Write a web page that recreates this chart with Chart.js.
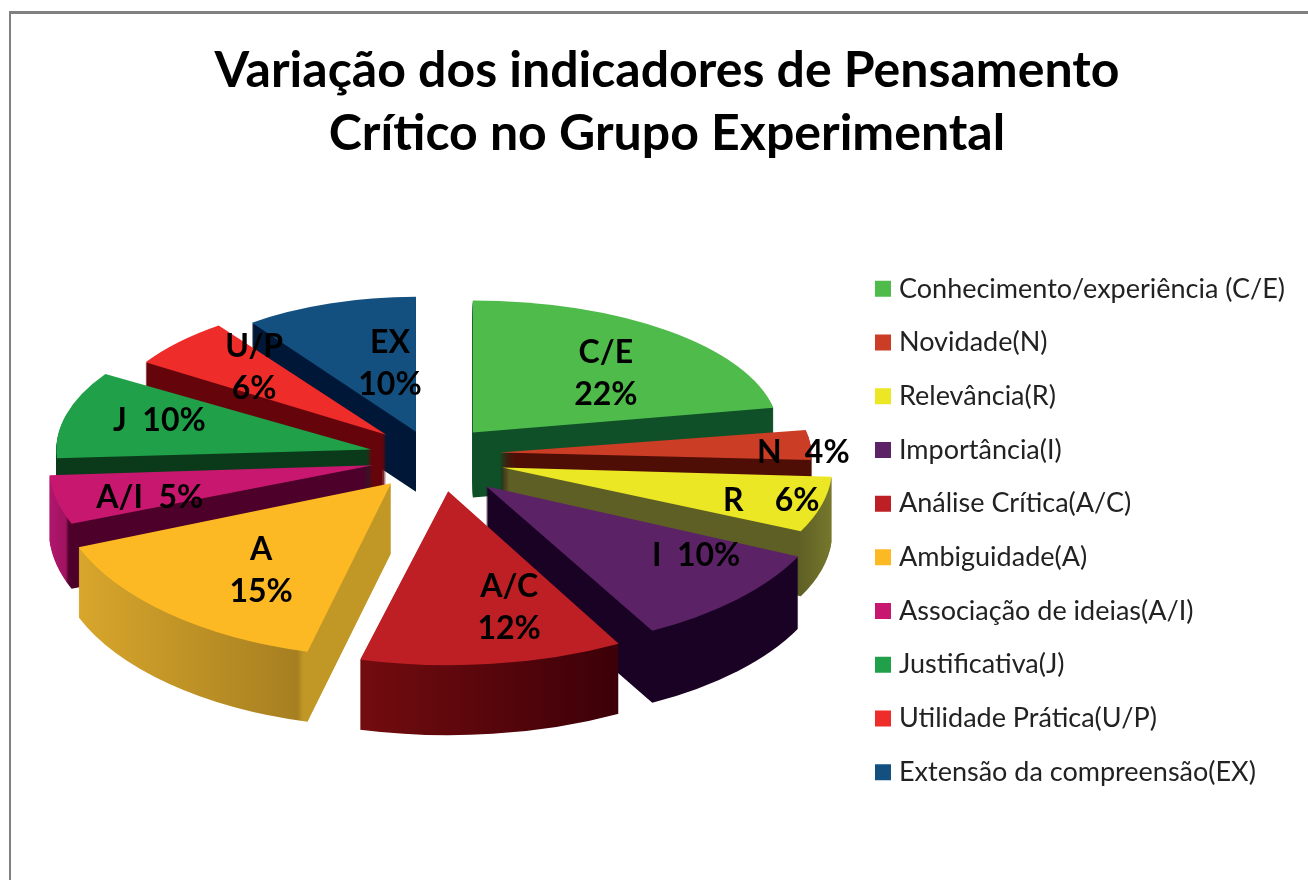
<!DOCTYPE html>
<html>
<head>
<meta charset="utf-8">
<title>Pensamento Crítico</title>
<script src="https://cdn.jsdelivr.net/npm/chart.js@4"></script>
<style>
    html, body { margin: 0; background: #fff; overflow: hidden; }
    #frame { position: absolute; left: 9px; top: 11px; width: 1310px; height: 880px; border-left: 2px solid #808080; border-top: 3px solid #808080; overflow: hidden; }
</style>
</head>
<body>
<div id="frame"><canvas id="grafica" width="1310" height="1008"></canvas></div>
<script>
const categorias = ["Conhecimento/experiência (C/E)", "Novidade(N)", "Relevância(R)", "Importância(I)", "Análise Crítica(A/C)", "Ambiguidade(A)", "Associação de ideias(A/I)", "Justificativa(J)", "Utilidade Prática(U/P)", "Extensão da compreensão(EX)"];
const valores = [22, 4, 6, 10, 12, 15, 5, 10, 6, 10];
const rotulos = [["C/E", "22%"], ["N   4%"], ["R    6%"], ["I  10%"], ["A/C", "12%"], ["A", "15%"], ["A/I  5%"], ["J  10%"], ["U/P", "6%"], ["EX", "10%"]];
const cores = ["#4fbb4b", "#cb3d25", "#ebe724", "#5b2366", "#bd1f24", "#fdb924", "#c8176f", "#20a049", "#ee2d2b", "#14507f"];
// paredes do efeito 3D: [posicao, cor] dentro da fatia
const paredes = [
    [[0, "#0f5028"], [1, "#0f5028"]],
    [[0, "#4e0d05"], [1, "#4e0d05"]],
    [[0, "#5e5f25"], [0.9, "#5e5f25"], [1, "#77782c"]],
    [[0, "#1a0225"], [1, "#1a0225"]],
    [[0, "#730c0f"], [1, "#3c0008"]],
    [[0, "#d8a62c"], [0.7, "#a67f20"], [0.72, "#c19826"], [1, "#c19826"]],
    [[0, "#b0166f"], [0.05, "#a0135f"], [0.06, "#4d0029"], [1, "#4d0029"]],
    [[0, "#0a3a1a"], [1, "#0a3a1a"]],
    [[0, "#65050b"], [1, "#65050b"]],
    [[0, "#011737"], [1, "#011737"]]
];

const raio = 300;
const explosao = [65, 70, 69, 75, 70, 61, 60, 62, 62, 50];
const ajusteTopo = [[0, 2], [-2, -3], [4, 0], [0, 0], [8, -5], [0, 0], [0, 0], [0, 0], [0, 0], [0, 0]];
const esticarX = [1.02, 1.04, 1.1, 1.15, 1.18, 1.12, 1.08, 1.05, 0.95, 0.93];
const esticarY = [0.44, 0.4, 0.5, 0.55, 0.58, 0.58, 0.53, 0.47, 0.45, 0.45];
const profundidade = [65, 60, 65, 72, 70, 70, 65, 65, 65, 60];
const ordemDesenho = [0, 9, 8, 1, 7, 2, 6, 3, 5, 4]; // de tras para a frente
const deslocaX = -15;
const deslocaY = -145.5;
const rotuloDesloc = [[133, -59], [304, 0], [269, 33], [210, 69], [61, 116], [-130, 88], [-223, 32], [-212, -29], [-132, -67], [-26, -68]];

const pizza3d = {
    id: "pizza3d",
    beforeDatasetDraw() {
        return false; // quem desenha e o afterDatasetsDraw
    },
    afterDatasetsDraw(chart) {
        const ctx = chart.ctx;
        const arcos = chart.getDatasetMeta(0).data;

        const topos = arcos.map((arco, i) => {
            const meio = (arco.startAngle + arco.endAngle) / 2;
            return {
                x: arco.x + deslocaX + ajusteTopo[i][0] + explosao[i] * Math.cos(meio),
                y: arco.y + deslocaY + ajusteTopo[i][1] + 0.55 * explosao[i] * Math.sin(meio)
            };
        });

        ordemDesenho.forEach(i => {
            const arco = arcos[i];
            const opcoes = arco.options;
            const xs = [0, Math.cos(arco.startAngle), Math.cos(arco.endAngle)].map(c => arco.x + c * raio);
            const grad = ctx.createLinearGradient(Math.min(...xs), 0, Math.max(...xs), 0);
            paredes[i].forEach(p => grad.addColorStop(p[0], p[1]));
            const opcoesParede = Object.create(opcoes);
            Object.defineProperty(opcoesParede, "backgroundColor", { value: grad });

            const pintar = (dy) => {
                ctx.save();
                ctx.translate(topos[i].x, topos[i].y + dy);
                ctx.scale(esticarX[i], esticarY[i]);
                ctx.translate(-arco.x, -arco.y);
                arco.draw(ctx);
                ctx.restore();
            };

            arco.options = opcoesParede;
            for (let d = profundidade[i]; d > 0; d--) pintar(d);
            arco.options = opcoes;
            pintar(0);
        });

        ctx.save();
        ctx.fillStyle = "#000";
        ctx.font = "bold 32px Lato";
        ctx.textAlign = "center";
        ctx.textBaseline = "middle";
        rotulos.forEach((linhas, i) => {
            const x = topos[i].x + rotuloDesloc[i][0];
            const y = topos[i].y + rotuloDesloc[i][1];
            linhas.forEach((txt, l) => ctx.fillText(txt, x, y + (l - (linhas.length - 1) / 2) * 42));
        });
        ctx.restore();
    }
};

new Chart(document.querySelector("#grafica"), {
    type: "pie",
    data: {
        labels: categorias,
        datasets: [{ data: valores, backgroundColor: cores, borderWidth: 0 }]
    },
    plugins: [pizza3d],
    options: {
        responsive: false,
        animation: false,
        radius: raio,
        layout: { padding: { top: 25, left: 28, right: 26 } },
        plugins: {
            tooltip: { enabled: false },
            title: {
                display: true,
                text: ["Variação dos indicadores de Pensamento", "Crítico no Grupo Experimental"],
                color: "#000",
                font: { family: "Lato", size: 50, weight: "bold", lineHeight: 1.26 },
                padding: { top: 0, bottom: 20 }
            },
            legend: {
                position: "right",
                labels: {
                    usePointStyle: true,
                    pointStyle: "rect",
                    boxWidth: 5,
                    boxHeight: 16,
                    padding: 26.7,
                    color: "#222",
                    font: { family: "Lato", size: 27 }
                }
            }
        }
    }
});
</script>
</body>
</html>
